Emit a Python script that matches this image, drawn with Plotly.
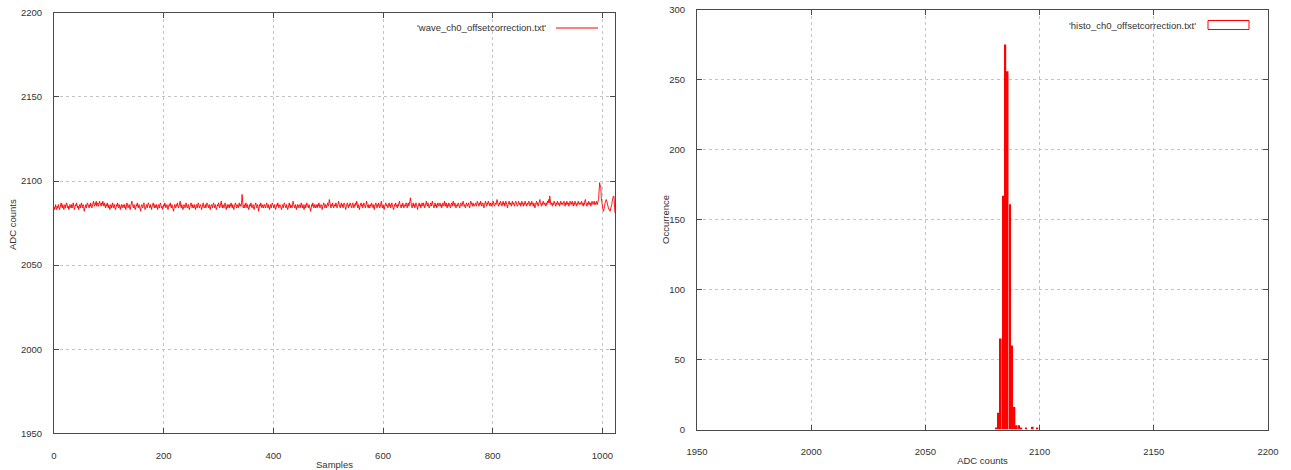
import plotly.graph_objects as go

# ---------------- data ----------------
wave_adc = [
    2085,2083,2084,2086,2084,2083,2085,2084, 2086,2085,2083,2084,2085,2087,2085,2084, 2086,2085,2083,2085,2086,2084,2085,2087, 2086,2084,2085,2083,2084,2086,2085,2084,
    2086,2084,2085,2087,2085,2083,2084,2086, 2085,2087,2086,2084,2085,2083,2085,2086, 2084,2085,2087,2085,2084,2086,2085,2082, 2084,2085,2086,2084,2085,2087,2086,2085,
    2084,2086,2085,2087,2086,2084,2085,2087, 2088,2086,2085,2087,2086,2088,2085,2086, 2087,2085,2086,2088,2087,2086,2085,2087, 2086,2088,2086,2085,2087,2086,2084,2086,
    2085,2087,2086,2084,2086,2085,2083,2085, 2086,2084,2085,2087,2085,2084,2086,2085, 2083,2084,2086,2085,2087,2085,2084,2086, 2085,2083,2085,2086,2084,2085,2086,2085,
    2084,2086,2085,2083,2085,2087,2086,2084, 2085,2086,2084,2083,2085,2086,2088,2086, 2085,2084,2086,2085,2083,2084,2086,2085, 2087,2085,2084,2086,2085,2084,2082,2085,
    2086,2085,2084,2086,2087,2085,2083,2084, 2085,2086,2084,2085,2087,2086,2085,2084, 2086,2085,2083,2085,2086,2087,2085,2084, 2086,2085,2084,2086,2085,2083,2085,2086,
    2084,2085,2087,2086,2084,2085,2083,2084, 2086,2085,2087,2086,2084,2085,2086,2084, 2083,2085,2086,2085,2087,2085,2084,2086, 2085,2084,2082,2084,2086,2085,2084,2086,
    2085,2087,2086,2084,2085,2086,2088,2085, 2084,2086,2085,2083,2084,2086,2085,2084, 2086,2087,2085,2084,2085,2086,2084,2083, 2085,2086,2087,2085,2084,2086,2085,2084,
    2086,2085,2083,2085,2086,2084,2085,2087, 2086,2084,2085,2086,2085,2083,2084,2086, 2087,2085,2084,2085,2086,2084,2085,2087, 2086,2085,2084,2086,2085,2083,2085,2086,
    2085,2084,2086,2087,2085,2084,2086,2085, 2083,2084,2086,2085,2087,2086,2084,2085, 2086,2088,2085,2084,2086,2085,2084,2086, 2087,2085,2083,2085,2086,2084,2085,2086,
    2084,2086,2085,2087,2085,2084,2086,2085, 2083,2085,2086,2087,2085,2084,2086,2085, 2084,2086,2087,2085,2086,2085,2087,2092, 2086,2084,2085,2086,2084,2085,2087,2085,
    2084,2086,2085,2083,2084,2086,2085,2087, 2086,2084,2085,2086,2084,2083,2085,2086, 2087,2085,2084,2086,2085,2082,2084,2086, 2085,2087,2086,2084,2085,2086,2084,2085,
    2086,2085,2084,2086,2087,2085,2084,2086, 2085,2083,2085,2086,2084,2085,2087,2086, 2085,2084,2086,2085,2083,2084,2086,2085, 2087,2086,2084,2085,2086,2085,2084,2083,
    2085,2086,2084,2085,2087,2086,2085,2084, 2086,2085,2083,2084,2086,2087,2085,2084, 2086,2085,2084,2086,2088,2086,2085,2084, 2086,2085,2083,2085,2086,2084,2085,2086,
    2085,2084,2086,2087,2085,2084,2086,2085, 2083,2085,2086,2084,2085,2087,2086,2085, 2084,2086,2085,2084,2082,2084,2086,2085, 2087,2085,2084,2086,2085,2084,2086,2085,
    2084,2086,2085,2087,2086,2084,2085,2086, 2085,2083,2085,2086,2087,2085,2084,2086, 2085,2084,2086,2087,2085,2086,2089,2086, 2085,2084,2086,2085,2087,2086,2084,2085,
    2086,2085,2087,2086,2084,2085,2086,2088, 2086,2085,2084,2086,2087,2085,2086,2084, 2085,2087,2086,2085,2083,2085,2086,2087, 2085,2084,2086,2085,2087,2086,2085,2084,
    2086,2087,2085,2084,2086,2085,2087,2086, 2088,2085,2084,2086,2085,2083,2085,2086, 2087,2085,2086,2084,2085,2087,2086,2085, 2084,2086,2088,2086,2085,2084,2086,2085,
    2084,2086,2085,2087,2086,2085,2084,2086, 2083,2085,2086,2087,2085,2084,2086,2085, 2087,2086,2084,2085,2086,2088,2085,2084, 2086,2085,2083,2085,2086,2087,2085,2086,
    2085,2084,2086,2087,2085,2086,2084,2085, 2087,2086,2085,2083,2084,2086,2085,2087, 2086,2085,2084,2086,2085,2087,2088,2086, 2085,2084,2086,2085,2087,2086,2084,2085,
    2086,2085,2087,2086,2084,2086,2087,2085, 2086,2088,2090,2086,2085,2084,2086,2087, 2085,2086,2084,2085,2087,2086,2085,2083, 2085,2086,2087,2085,2086,2084,2085,2087,
    2086,2085,2087,2086,2084,2085,2086,2088, 2086,2085,2087,2086,2084,2085,2086,2087, 2085,2086,2088,2086,2085,2084,2086,2087, 2085,2086,2084,2085,2087,2086,2085,2086,
    2087,2085,2086,2084,2085,2087,2086,2085, 2088,2086,2085,2087,2086,2084,2086,2085, 2087,2086,2085,2084,2086,2087,2085,2086, 2088,2086,2085,2087,2086,2084,2085,2086,
    2085,2087,2086,2085,2084,2086,2087,2086, 2085,2087,2088,2086,2085,2086,2084,2085, 2087,2086,2085,2086,2087,2085,2084,2086, 2088,2087,2086,2085,2087,2086,2085,2086,
    2086,2087,2085,2086,2088,2087,2086,2085, 2087,2086,2088,2087,2085,2086,2087,2086, 2084,2086,2087,2088,2086,2085,2087,2086, 2088,2087,2086,2085,2087,2086,2085,2087,
    2086,2088,2087,2085,2086,2087,2086,2088, 2089,2087,2086,2085,2087,2086,2088,2087, 2086,2085,2087,2088,2086,2087,2085,2086, 2088,2087,2086,2084,2086,2087,2088,2086,
    2087,2086,2085,2087,2088,2086,2087,2086, 2085,2087,2088,2087,2086,2085,2086,2088, 2087,2086,2087,2085,2086,2088,2087,2086, 2085,2087,2086,2088,2087,2086,2085,2087,
    2086,2087,2088,2086,2085,2087,2086,2088, 2087,2086,2085,2087,2086,2084,2086,2087, 2088,2086,2087,2085,2086,2087,2089,2087, 2086,2085,2087,2086,2088,2087,2086,2087,
    2086,2085,2087,2086,2088,2087,2089,2087, 2091,2088,2086,2087,2086,2085,2087,2086, 2088,2087,2086,2085,2087,2086,2088,2087, 2086,2087,2085,2086,2088,2087,2086,2087,
    2086,2087,2088,2086,2085,2087,2086,2088, 2087,2086,2087,2085,2086,2088,2087,2086, 2087,2088,2086,2085,2087,2086,2088,2087, 2086,2085,2087,2086,2088,2087,2086,2087,
    2087,2086,2088,2087,2086,2085,2087,2086, 2088,2089,2087,2086,2085,2087,2086,2088, 2087,2086,2087,2085,2086,2088,2087,2086, 2087,2088,2086,2087,2086,2088,2087,2086,
    2088,2089,2094,2099,2097,2097,2090,2086, 2084,2083,2082,2083,2085,2087,2089,2089, 2088,2086,2085,2084,2083,2083,2082,2083, 2084,2086,2088,2090,2091,2091,2086,2081,
]
sample_idx = list(range(len(wave_adc)))

hist_adc = [2081, 2082, 2083, 2084, 2085, 2086, 2087, 2088, 2089, 2090, 2091, 2092, 2094, 2097, 2099]
hist_count = [1, 12, 65, 167, 275, 256, 161, 60, 16, 3, 3, 1, 1, 2, 1]

wave_xticks = [0, 200, 400, 600, 800, 1000]
wave_yticks = [1950, 2000, 2050, 2100, 2150, 2200]
hist_xticks = [1950, 2000, 2050, 2100, 2150, 2200]
hist_yticks = [0, 50, 100, 150, 200, 250, 300]

wave_label = "'wave_ch0_offsetcorrection.txt'"
hist_label = "'histo_ch0_offsetcorrection.txt'"

# ---------------- style ----------------
W, H = 1291, 470
FONT = "Liberation Sans, Arial, sans-serif"
FS = 9.5
TXT = "#333333"


def px(x):
    return x / W


def py(y):
    return (H - y) / H


def axis_style(**kw):
    d = dict(
        showline=True, linecolor="#4a4a4a", linewidth=1, mirror="ticks",
        ticks="inside", ticklen=5, tickwidth=1, tickcolor="#4a4a4a",
        showgrid=True, gridcolor="#c4c4c4", gridwidth=1, griddash="3px,3px",
        zeroline=False, tickmode="array", automargin=False,
        tickfont=dict(family=FONT, size=FS, color=TXT),
        title_font=dict(family=FONT, size=FS, color=TXT),
    )
    d.update(kw)
    return d


fig = go.Figure()
fig.add_trace(go.Scatter(
    x=sample_idx, y=wave_adc, mode="lines",
    line=dict(color="#ff0000", width=0.9), name=wave_label,
    xaxis="x", yaxis="y", showlegend=False,
))
fig.add_trace(go.Bar(
    x=hist_adc, y=hist_count, width=0.75,
    marker=dict(color="#ff0000", line=dict(width=0)), name=hist_label,
    xaxis="x2", yaxis="y2", showlegend=False,
))

fig.update_layout(
    width=W, height=H,
    margin=dict(l=0, r=0, t=0, b=0, pad=0, autoexpand=False),
    paper_bgcolor="white", plot_bgcolor="white",
    showlegend=False,
    font=dict(family=FONT, size=FS, color=TXT),
    xaxis=axis_style(domain=[px(54), px(615)], range=[0, 1023], tickvals=wave_xticks,
                     ticklabelstandoff=13, anchor="y",
                     title=dict(text="Samples", standoff=1)),
    yaxis=axis_style(domain=[py(433.3), py(12.8)], range=[1950, 2200], tickvals=wave_yticks,
                     ticklabelstandoff=9, anchor="x"),
    xaxis2=axis_style(domain=[px(697), px(1268)], range=[1950, 2200], tickvals=hist_xticks,
                      ticklabelstandoff=13, anchor="y2",
                      title=dict(text="ADC counts", standoff=1)),
    yaxis2=axis_style(domain=[py(429.5), py(9.6)], range=[0, 300], tickvals=hist_yticks,
                      ticklabelstandoff=9, anchor="x2"),
)

# vertical axis titles placed like gnuplot's ylabel
fig.add_annotation(x=px(12), y=py(224), xref="paper", yref="paper", text="ADC counts",
                   textangle=-90, showarrow=False, xanchor="center", yanchor="middle",
                   font=dict(family=FONT, size=FS, color=TXT))
fig.add_annotation(x=px(665), y=py(220), xref="paper", yref="paper", text="Occurrence",
                   textangle=-90, showarrow=False, xanchor="center", yanchor="middle",
                   font=dict(family=FONT, size=FS, color=TXT))

# gnuplot-style keys: text first, sample to its right
fig.add_annotation(x=px(548), y=py(28), xref="paper", yref="paper", text=wave_label,
                   showarrow=False, xanchor="right", yanchor="middle",
                   font=dict(family=FONT, size=FS, color=TXT))
fig.add_shape(type="line", xref="paper", yref="paper",
              x0=px(556), x1=px(598), y0=py(28), y1=py(28),
              line=dict(color="#ff0000", width=1))
fig.add_annotation(x=px(1198), y=py(25), xref="paper", yref="paper", text=hist_label,
                   showarrow=False, xanchor="right", yanchor="middle",
                   font=dict(family=FONT, size=FS, color=TXT))
fig.add_shape(type="rect", xref="paper", yref="paper",
              x0=px(1208), x1=px(1249), y0=py(29.5), y1=py(20.5),
              line=dict(color="#ff0000", width=1), fillcolor="rgba(0,0,0,0)")

fig.write_html("out.html")
